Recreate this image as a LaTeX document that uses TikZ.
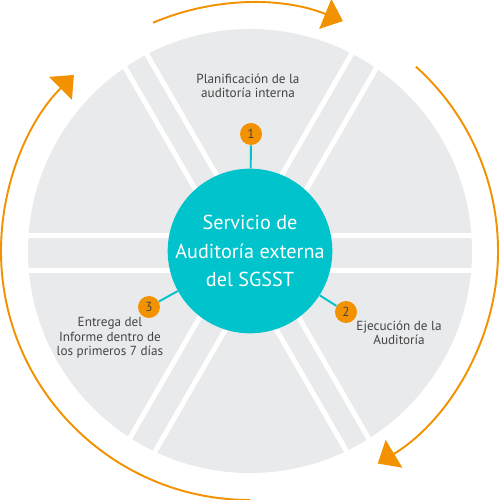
\documentclass[tikz,border=0pt]{standalone}
\usepackage{fontspec}
\setmainfont{PT Sans}
\definecolor{diskgray}{HTML}{E9EAEC}
\definecolor{auditteal}{HTML}{00C3CB}
\definecolor{auditorange}{HTML}{F39200}
\definecolor{labelgray}{HTML}{444444}
\usetikzlibrary{arrows.meta,calc}
\tikzset{
  band/.style={white, line width=0.1cm},
  badge/.style={circle, fill=auditorange, minimum size=0.44cm, inner sep=0pt, text=labelgray, font=\fontsize{7.5}{8}\selectfont},
  stepline/.style={auditteal, line width=1.1pt},
  steplabel/.style={align=center, text=labelgray, font=\fontsize{7.5}{8.2}\selectfont},
  cycle/.style={auditorange, line width=1.1pt, -{Triangle[length=0.38cm, width=0.64cm]}}
}

\begin{document}
\begin{tikzpicture}
\useasboundingbox (-5,-4.98) rectangle (5,5.02);
% Gray disk with white bands
\fill[diskgray] (0,0) circle (4.44);
\foreach \a/\p/\q in {0/0.30/-0.40, 60/0.21/-0.36, 120/0.33/-0.18} {
  \draw[band] ($(\a:-4.6)+(\a+90:\p)$) -- ($(\a:4.6)+(\a+90:\p)$);
  \draw[band] ($(\a:-4.6)+(\a+90:\q)$) -- ($(\a:4.6)+(\a+90:\q)$);
}
% Center
\node[circle, fill=auditteal, minimum size=3.24cm, inner sep=0pt, align=center, text=white,
  font=\fontsize{11.5}{16}\selectfont] (servicio) at (0,0) {Servicio de\\Auditoría externa\\del SGSST};
% Steps
\node[badge] (b1) at (0.02,2.34) {1};
\node[badge] (b2) at (1.92,-1.22) {2};
\node[badge] (b3) at (-2.02,-1.12) {3};
\draw[stepline] (b1) -- (servicio);
\draw[stepline] (b2) -- (servicio);
\draw[stepline] (b3) -- (servicio);
\node[steplabel] (planificacion) at (-0.04,3.3) {Planificación de la\\auditoría interna};
\node[steplabel] (ejecucion) at (2.98,-1.64) {Ejecución de la\\Auditoría};
\node[steplabel] (entrega) at (-2.8,-1.74) {Entrega del\\Informe dentro de\\los primeros 7 días};
% Cycle arrows
\draw[cycle] (113:4.96) arc[start angle=113, end angle=68, radius=4.96];
\draw[cycle] (48:4.96) arc[start angle=48, end angle=-59, radius=4.96];
\draw[cycle] (-90:4.98) arc[start angle=-90, end angle=-225, radius=4.98];
\end{tikzpicture}
\end{document}
